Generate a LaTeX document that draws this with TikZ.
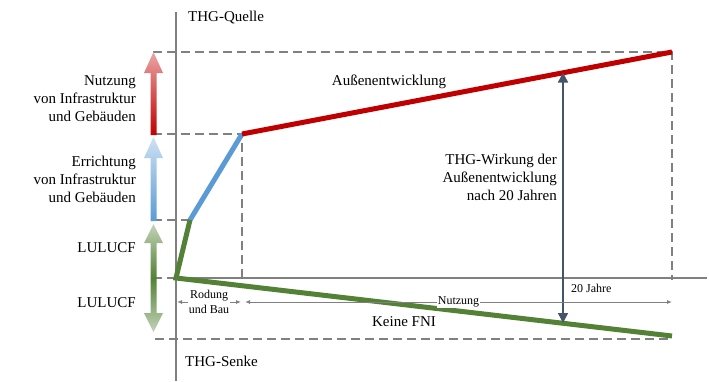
\documentclass[tikz,border=0pt]{standalone}
\usepackage{fontspec}
\setmainfont{Liberation Serif}
\usetikzlibrary{positioning}
\usetikzlibrary{calc}
\usetikzlibrary{arrows.meta}
\definecolor{thgred}{HTML}{C00000}
\definecolor{thgblue}{HTML}{5B9BD5}
\definecolor{thggreen}{HTML}{538135}
\definecolor{thgslate}{HTML}{44546A}
\definecolor{thggray}{HTML}{808080}
\tikzset{
	every node/.style={align=center,inner sep=1pt},
	axis/.style={draw=thggray,line width=1.4pt},
	guide/.style={draw=thggray,line width=1.3pt,dash pattern=on 9pt off 5pt},
	curve/.style={line width=5pt},
	big/.style={font=\fontsize{15}{18}\selectfont},
	small/.style={font=\fontsize{12}{15}\selectfont},
	dim/.style={draw=thggray,line width=0.9pt,{Latex[length=5pt,width=4pt]}-{Latex[length=5pt,width=4pt]}},
	effect/.style={draw=thgslate,line width=1.4pt,{Triangle[length=10pt,width=10pt]}-{Triangle[length=10pt,width=10pt]}}
}
\begin{document}
\begin{tikzpicture}[x=1pt,y=-1pt]
	\useasboundingbox (0,0) rectangle (709,381);
	% key points
	\coordinate (o) at (176,278);
	\coordinate (kink) at (190,220);
	\coordinate (bau) at (242,134);
	\coordinate (top) at (672,52);
	\coordinate (fni) at (672,336);
	\coordinate (wtop) at (563,72.5);
	\coordinate (wbot) at (563,323);
	
	% axes
	\draw[axis] (176,12) -- (176,381);
	\draw[axis] (o) -- (707,278);
	
	% guides
	\draw[guide] (153,52) -- (top) -- (672,280);
	\draw[guide] (153,134) -- (bau) -- (242,280);
	\draw[guide] (153,220) -- (kink);
	\draw[guide] (153,278) -- (o);
	\draw[guide] (155,339) -- (672,339);
	
	% left arrows
	\shade[top color=thgred!35, bottom color=thgred] (150.5,135) -- (150.5,73) -- (144,73) -- (153.5,52) -- (163,73) -- (156.5,73) -- (156.5,135) -- cycle;
	\shade[top color=thgblue!30, bottom color=thgblue] (150.5,221) -- (150.5,158) -- (144,158) -- (153.5,137) -- (163,158) -- (156.5,158) -- (156.5,221) -- cycle;
	\shade[top color=thggreen!35, bottom color=thggreen] (150.5,278) -- (150.5,243) -- (144,243) -- (153.5,224) -- (163,243) -- (156.5,243) -- (156.5,278) -- cycle;
	\shade[top color=thggreen, bottom color=thggreen!35] (150.5,278) -- (150.5,313) -- (144,313) -- (153.5,332) -- (163,313) -- (156.5,313) -- (156.5,278) -- cycle;
	
	% curves
	\draw[curve,thgblue] (kink) -- (bau);
	\draw[curve,thgred] (bau) -- (top);
	\draw[curve,thggreen,line join=miter] (kink) -- (o) -- (fni);
	
	% effect after 20 years
	\draw[effect] (wbot) -- (wtop);
	
	% dimension lines
	\draw[dim] (177,302) -- node[small,fill=white] (rodung) {Rodung\\und Bau} (241,302);
	\draw[dim] (245,302) -- node[small,fill=white] (nutz) {Nutzung} (672,302);
	
	% labels
	\node[big] (quelle) [anchor=west] at (187,18) {THG-Quelle};
	\node[big] (senke) [anchor=west] at (184,361) {THG-Senke};
	\node[big,align=right,anchor=east] (nutzung) at (137,99) {Nutzung\\von Infrastruktur\\und Gebäuden};
	\node[big,align=right,anchor=east] (errichtung) at (137,179) {Errichtung\\von Infrastruktur\\und Gebäuden};
	\node[big,anchor=east] (lulucfup) at (137,248) {LULUCF};
	\node[big,anchor=east] (lulucfdown) at (137,303) {LULUCF};
	\node[big] (aussen) at (389,82) {Außenentwicklung};
	\node[big,align=right,anchor=east] (wirkung) at (558,177) {THG-Wirkung der\\Außenentwicklung\\nach 20 Jahren};
	\node[big] (keine) at (404,322) {Keine FNI};
	\node[small,anchor=west] (jahre) at (570,288) {20 Jahre};
\end{tikzpicture}
\end{document}
